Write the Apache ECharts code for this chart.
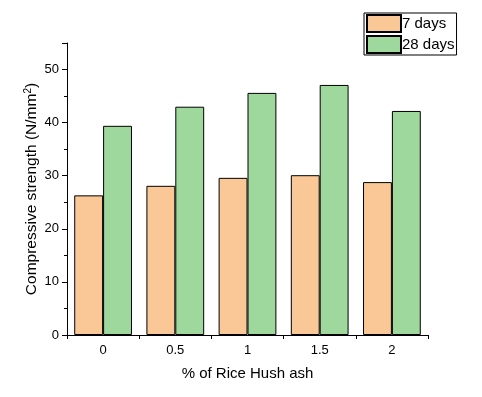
<!DOCTYPE html>
<html>
<head>
<meta charset="utf-8">
<script src="https://cdn.jsdelivr.net/npm/echarts@6/dist/echarts.min.js"></script>
<style>html,body{margin:0;padding:0;background:#fff}#c{width:482px;height:397px}</style>
</head>
<body>
<div id="c"></div>
<script>
var categories = ['0', '0.5', '1', '1.5', '2'];
var days7 = [26.3, 28.1, 29.6, 30.1, 28.8];
var days28 = [39.4, 43.0, 45.6, 47.1, 42.2];
var seriesNames = ['7 days', '28 days'];

var FONT = 'Liberation Sans';
var chart = echarts.init(document.getElementById('c'), null, {renderer: 'canvas'});
chart.setOption({
  animation: false,
  backgroundColor: '#ffffff',
  textStyle: {fontFamily: FONT},
  grid: {left: 67, right: 54, top: 43, bottom: 62, containLabel: false},
  legend: {
    orient: 'vertical',
    left: 364, top: 13,
    icon: 'rect',
    itemWidth: 34, itemHeight: 17, itemGap: 2,
    padding: [1, 2, 1, 2],
    borderColor: '#000', borderWidth: 1, borderRadius: 0,
    textStyle: {fontFamily: FONT, fontSize: 15, color: '#000', padding: [0, 0, 0, -4]},
    data: seriesNames
  },
  xAxis: {
    type: 'category',
    data: categories,
    name: '% of Rice Hush ash',
    nameLocation: 'middle',
    nameGap: 31,
    nameMoveOverlap: false,
    nameTextStyle: {fontFamily: FONT, fontSize: 15, color: '#000'},
    axisLine: {lineStyle: {color: '#000', width: 1}},
    axisTick: {show: true, alignWithLabel: false, length: 4, inside: false, lineStyle: {color: '#000'}},
    axisLabel: {fontFamily: FONT, fontSize: 13, color: '#000', margin: 9}
  },
  yAxis: {
    type: 'value',
    min: 0, max: 55, interval: 10,
    name: '{a|Compressive strength (N/mm}{s|2}{a|)}',
    nameLocation: 'middle',
    nameGap: 26,
    nameMoveOverlap: false,
    nameTextStyle: {
      fontFamily: FONT, fontSize: 15, color: '#000',
      rich: {
        a: {fontFamily: FONT, fontSize: 15.5, color: '#000'},
        s: {fontFamily: FONT, fontSize: 10, color: '#000', verticalAlign: 'top', padding: [0, 0, 8, 0]}
      }
    },
    splitLine: {show: false},
    axisLine: {show: true, lineStyle: {color: '#000', width: 1}},
    axisTick: {show: true, length: 5, lineStyle: {color: '#000'}},
    minorTick: {show: true, splitNumber: 2, length: 3, lineStyle: {color: '#000'}},
    axisLabel: {fontFamily: FONT, fontSize: 13, color: '#000', margin: 8, showMaxLabel: false,
      formatter: function (v) { return v % 10 === 0 ? String(v) : ''; }}
  },
  series: [
    {
      name: seriesNames[0], type: 'bar', data: days7,
      barGap: '0%', barCategoryGap: '20%',
      itemStyle: {color: 'rgb(250,200,150)', borderColor: '#000', borderWidth: 1}
    },
    {
      name: seriesNames[1], type: 'bar', data: days28,
      barGap: '0%', barCategoryGap: '20%',
      itemStyle: {color: 'rgb(158,216,156)', borderColor: '#000', borderWidth: 1}
    }
  ]
});
</script>
</body>
</html>
